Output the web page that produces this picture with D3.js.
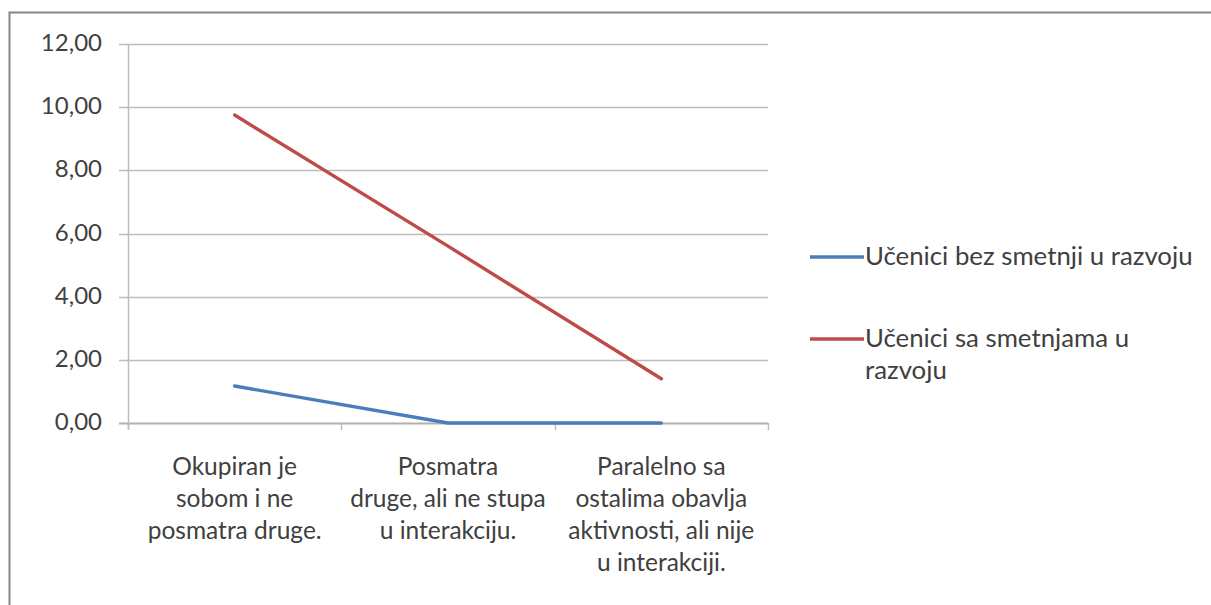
<!DOCTYPE html>
<html>
<head>
<meta charset="utf-8">
<script src="https://cdn.jsdelivr.net/npm/d3@7"></script>
<style>
  body { margin: 0; background: #fff; }
  text { font-family: Lato, "Open Sans", sans-serif; fill: #404040; }
</style>
</head>
<body>
<script>
var categories = [
  ["Okupiran je", "sobom i ne", "posmatra druge."],
  ["Posmatra", "druge, ali ne stupa", "u interakciju."],
  ["Paralelno sa", "ostalima obavlja", "aktivnosti, ali nije", "u interakciji."]
];
var seriesNames = [
  ["Učenici bez smetnji u razvoju"],
  ["Učenici sa smetnjama u", "razvoju"]
];
var blueValues = [1.17, 0, 0];
var redValues = [9.75, 5.6, 1.4];
var yTicks = [0, 2, 4, 6, 8, 10, 12];
var colors = ["#4a7ebb", "#be4b48"];

var width = 1211, height = 605;
var svg = d3.select("body").append("svg")
    .attr("width", width)
    .attr("height", height);

// outer chart frame (right and bottom edges fall off the picture)
svg.append("rect")
    .attr("x", 9.5).attr("y", 12.5)
    .attr("width", 1300).attr("height", 700)
    .attr("fill", "none")
    .attr("stroke", "#868686")
    .attr("stroke-width", 2);

var x0 = 128, x1 = 768, yTop = 44, yBot = 423;

var x = d3.scaleBand()
    .domain(d3.range(categories.length))
    .range([x0, x1]);

var y = d3.scaleLinear()
    .domain([0, 12])
    .range([yBot, yTop]);

// gridlines
svg.append("g").selectAll("line")
    .data(yTicks)
    .enter().append("line")
    .attr("x1", x0 - 9).attr("x2", x1)
    .attr("y1", function (d) { return Math.round(y(d)) + 0.5; })
    .attr("y2", function (d) { return Math.round(y(d)) + 0.5; })
    .attr("stroke", function (d) { return d == 0 ? "#b0b0b0" : "#bdbdbd"; })
    .attr("stroke-width", function (d) { return d == 0 ? 2 : 1.5; });

// y axis line
svg.append("line")
    .attr("x1", x0 + 0.5).attr("x2", x0 + 0.5)
    .attr("y1", yTop).attr("y2", yBot + 6)
    .attr("stroke", "#bdbdbd").attr("stroke-width", 1.5);

// x axis ticks between categories
svg.append("g").selectAll("line")
    .data(d3.range(categories.length + 1))
    .enter().append("line")
    .attr("x1", function (d) { return Math.round(x0 + d * x.bandwidth()) + 0.5; })
    .attr("x2", function (d) { return Math.round(x0 + d * x.bandwidth()) + 0.5; })
    .attr("y1", yBot).attr("y2", yBot + 7)
    .attr("stroke", "#bdbdbd").attr("stroke-width", 1.5);

// y labels
svg.append("g").selectAll("text")
    .data(yTicks)
    .enter().append("text")
    .attr("x", 102)
    .attr("y", function (d) { return y(d) + 7; })
    .attr("text-anchor", "end")
    .style("font-size", "24px")
    .text(function (d) { return d3.format(".2f")(d).replace(".", ","); });

// category labels
var cat = svg.append("g").selectAll("text")
    .data(categories)
    .enter().append("text")
    .attr("text-anchor", "middle")
    .style("font-size", "24.5px");
cat.selectAll("tspan")
    .data(function (d, i) { return d.map(function (t) { return { t: t, i: i }; }); })
    .enter().append("tspan")
    .attr("x", function (d) { return x(d.i) + x.bandwidth() / 2; })
    .attr("y", function (d, j) { return 475 + j * 32; })
    .text(function (d) { return d.t; });

// lines
var line = d3.line()
    .x(function (d, i) { return x(i) + x.bandwidth() / 2; })
    .y(function (d) { return y(d); });

[blueValues, redValues].forEach(function (vals, k) {
  svg.append("path")
      .datum(vals)
      .attr("d", line)
      .attr("fill", "none")
      .attr("stroke", colors[k])
      .attr("stroke-width", 3.4)
      .attr("stroke-linecap", "round")
      .attr("stroke-linejoin", "round");
});

// legend
var legendY = [257, 339];
seriesNames.forEach(function (lines, k) {
  svg.append("line")
      .attr("x1", 810).attr("x2", 864)
      .attr("y1", legendY[k]).attr("y2", legendY[k])
      .attr("stroke", colors[k])
      .attr("stroke-width", 3.4);
  var t = svg.append("text")
      .style("font-size", "25.8px");
  lines.forEach(function (s, j) {
    t.append("tspan")
        .attr("x", 865)
        .attr("y", legendY[k] + 8 + j * 32)
        .text(s);
  });
});
</script>
</body>
</html>
